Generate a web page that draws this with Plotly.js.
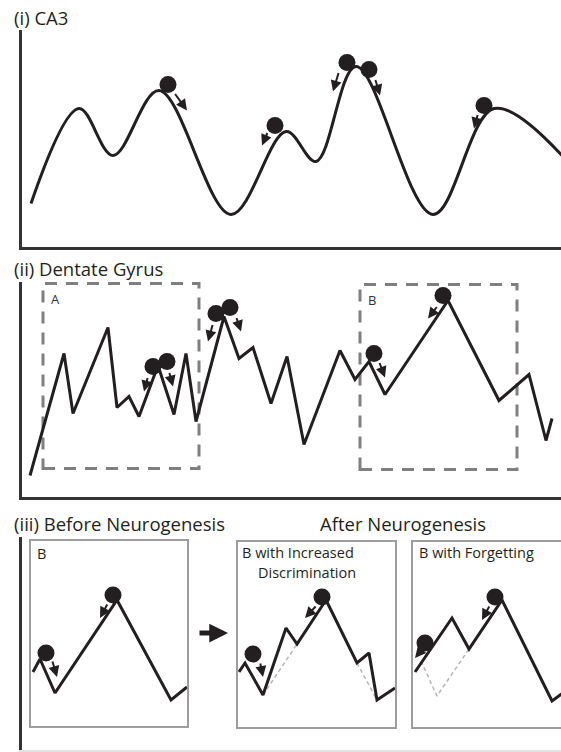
<!DOCTYPE html>
<html>
<head>
<meta charset="utf-8">
<script src="https://cdn.plot.ly/plotly-3.0.1.min.js"></script>
<style>html,body{margin:0;padding:0;background:#fff;overflow:hidden;}#chart{width:561px;height:752px;}</style>
</head>
<body>
<div id="chart"></div>
<script>
// ---------- Panel (i) CA3 : smooth energy landscape ----------
const ca3X = [9, 57, 91, 137, 209, 264, 294, 334, 411, 472, 540];
const ca3Y = [43, 138, 91, 156, 32, 115, 85, 180, 32, 138, 91];
const ca3BallX = [146, 253, 325, 347, 462];
const ca3BallY = [162, 121, 184, 177, 141];
const ca3ArrowX0 = [152, 246, 317, 353, 456];
const ca3ArrowY0 = [154, 115, 175, 168, 133];
const ca3ArrowX1 = [165, 240, 311, 358, 452];
const ca3ArrowY1 = [136, 101, 155, 151, 118];

// ---------- Panel (ii) Dentate Gyrus : jagged landscape ----------
const dgX = [8, 42, 51, 86, 95, 107, 117, 136, 152, 164, 174, 202, 217, 231, 249, 265, 282, 318, 333, 347, 363, 426, 477, 507, 524, 530];
const dgY = [21, 143, 83, 169, 89, 100, 80, 131, 82, 143, 75, 180, 138, 149, 93, 140, 52, 146, 117, 135, 102, 196, 96, 122, 56, 78];
const dgBallX = [131, 145, 194, 208, 352, 421];
const dgBallY = [130, 135, 183, 189, 143, 201];
const dgArrowX0 = [126, 147, 191, 214, 357, 416];
const dgArrowY0 = [120, 125, 173, 180, 135, 191];
const dgArrowX1 = [122, 151, 186, 219, 363, 406];
const dgArrowY1 = [105, 110, 155, 165, 119, 178];
const dgBoxNames = ["A", "B"];
const dgBoxX0 = [21, 338];
const dgBoxX1 = [177, 495];
const dgBoxY0 = [28, 27];
const dgBoxY1 = [213, 212];

// ---------- Panel (iii) region B before / after neurogenesis ----------
const beforeX = [2, 9, 24, 86, 140, 156];
const beforeY = [54, 67, 33, 126, 26, 39];
const beforeBallX = [15, 82];
const beforeBallY = [73, 131];
const beforeArrowX0 = [21, 77], beforeArrowY0 = [66, 123];
const beforeArrowX1 = [26, 69], beforeArrowY1 = [49, 108];

const discX = [1, 7, 25, 48, 59, 88, 119, 131, 139, 157];
const discY = [55, 64, 32, 99, 83, 127, 64, 74, 27, 39];
const discOldX = [25, 59, null, 119, 139];
const discOldY = [32, 83, null, 64, 27];
const discBallX = [15, 84];
const discBallY = [73, 130];
const discArrowX0 = [22, 79], discArrowY0 = [65, 122];
const discArrowX1 = [25, 67], discArrowY1 = [50, 109];

const forgetX = [2, 39, 56, 89, 139, 150];
const forgetY = [55, 109, 78, 127, 26, 34];
const forgetOldX = [8, 24, 56];
const forgetOldY = [66, 31, 78];
const forgetBallX = [12, 82];
const forgetBallY = [84, 130];
const forgetArrowX0 = [7, 77], forgetArrowY0 = [75, 122];
const forgetArrowX1 = [2, 69], forgetArrowY1 = [69, 107];

const panelTitles = ["(i) CA3", "(ii) Dentate Gyrus", "(iii) Before Neurogenesis", "After Neurogenesis"];
const boxLabels = ["B", "B with Increased", "Discrimination", "B with Forgetting"];

// ---------- styling / layout helpers ----------
const W = 561, H = 752;
const px = x => x / W;
const py = y => (H - y) / H;
const INK = '#231f20';
const FONT = 'Open Sans, sans-serif';

function landscape(x, y, xa, ya, shape) {
  return {x: x, y: y, xaxis: xa, yaxis: ya, type: 'scatter', mode: 'lines',
    line: {color: INK, width: 3, shape: shape || 'linear', smoothing: 1.0},
    hoverinfo: 'skip', showlegend: false, cliponaxis: true};
}
function balls(x, y, xa, ya) {
  return {x: x, y: y, xaxis: xa, yaxis: ya, type: 'scatter', mode: 'markers',
    marker: {color: INK, size: 17}, hoverinfo: 'skip', showlegend: false, cliponaxis: false};
}
function dashed(x, y, xa, ya) {
  return {x: x, y: y, xaxis: xa, yaxis: ya, type: 'scatter', mode: 'lines',
    line: {color: '#b5b5b5', width: 1.5, dash: '4px,3px'}, hoverinfo: 'skip', showlegend: false};
}
function arrows(x0, y0, x1, y1, xa, ya) {
  const out = [];
  for (let i = 0; i < x0.length; i++) {
    out.push({x: x1[i], y: y1[i], ax: x0[i], ay: y0[i], xref: xa, yref: ya, axref: xa, ayref: ya,
      text: '', showarrow: true, arrowhead: 2, arrowsize: 1.1, arrowwidth: 2, arrowcolor: INK, standoff: 0, startstandoff: 0});
  }
  return out;
}

const traces = [
  landscape(ca3X, ca3Y, 'x', 'y', 'spline'),
  balls(ca3BallX, ca3BallY, 'x', 'y'),
  landscape(dgX, dgY, 'x2', 'y2'),
  balls(dgBallX, dgBallY, 'x2', 'y2'),
  {x: [null], y: [null], xaxis: 'x3', yaxis: 'y3', type: 'scatter', mode: 'lines', showlegend: false, hoverinfo: 'skip'},
  landscape(beforeX, beforeY, 'x4', 'y4'),
  balls(beforeBallX, beforeBallY, 'x4', 'y4'),
  dashed(discOldX, discOldY, 'x5', 'y5'),
  landscape(discX, discY, 'x5', 'y5'),
  balls(discBallX, discBallY, 'x5', 'y5'),
  dashed(forgetOldX, forgetOldY, 'x6', 'y6'),
  landscape(forgetX, forgetY, 'x6', 'y6'),
  balls(forgetBallX, forgetBallY, 'x6', 'y6')
];

const bare = {showgrid: false, zeroline: false, showticklabels: false, ticks: '', fixedrange: true};
const axisLine = {showline: true, linecolor: '#333333', linewidth: 3};
const boxLine = {showline: true, mirror: true, linecolor: '#9d9d9d', linewidth: 2};

const annotations = [];
function title(text, x, y, anchor, size) {
  annotations.push({text: text, x: x, y: y, xref: 'paper', yref: 'paper', xanchor: anchor, yanchor: 'middle',
    showarrow: false, font: {family: FONT, size: size, color: INK}});
}
title(panelTitles[0], px(12), py(17), 'left', 18.5);
title(panelTitles[1], px(12), py(268), 'left', 18.5);
title(panelTitles[2], px(12), py(523), 'left', 18.5);
title(panelTitles[3], px(403), py(523), 'center', 18.5);

dgBoxNames.forEach((n, i) => {
  annotations.push({text: n, x: dgBoxX0[i] + 6, y: dgBoxY1[i] - 15, xref: 'x2', yref: 'y2', xanchor: 'left', yanchor: 'middle',
    showarrow: false, font: {family: FONT, size: 13, color: '#333'}});
});
function boxText(text, xa, ya, x, y) {
  annotations.push({text: text, x: x, y: y, xref: xa, yref: ya, xanchor: 'left', yanchor: 'middle',
    showarrow: false, font: {family: FONT, size: 14.5, color: INK}});
}
boxText(boxLabels[0], 'x4', 'y4', 4, 173);
boxText(boxLabels[1], 'x5', 'y5', 2, 175);
boxText(boxLabels[2], 'x5', 'y5', 18, 155);
boxText(boxLabels[3], 'x6', 'y6', 4, 175);

annotations.push(...arrows(ca3ArrowX0, ca3ArrowY0, ca3ArrowX1, ca3ArrowY1, 'x', 'y'));
annotations.push(...arrows(dgArrowX0, dgArrowY0, dgArrowX1, dgArrowY1, 'x2', 'y2'));
annotations.push(...arrows(beforeArrowX0, beforeArrowY0, beforeArrowX1, beforeArrowY1, 'x4', 'y4'));
annotations.push(...arrows(discArrowX0, discArrowY0, discArrowX1, discArrowY1, 'x5', 'y5'));
annotations.push(...arrows(forgetArrowX0, forgetArrowY0, forgetArrowX1, forgetArrowY1, 'x6', 'y6'));

// big arrow between "before" and "after"
annotations.push({x: px(228), y: py(633), xref: 'paper', yref: 'paper', ax: -30, ay: 0, text: '', showarrow: true,
  arrowhead: 2, arrowsize: 0.75, arrowwidth: 5, arrowcolor: INK, standoff: 0});

const shapes = dgBoxNames.map((n, i) => ({type: 'rect', xref: 'x2', yref: 'y2',
  x0: dgBoxX0[i], x1: dgBoxX1[i], y0: dgBoxY0[i], y1: dgBoxY1[i],
  line: {color: '#7f7f7f', width: 3, dash: '12px,9px'}, fillcolor: 'rgba(0,0,0,0)', layer: 'below'}));
// third frame runs off the right edge of the page: open on the right
const f3 = {l: px(412), t: py(541), b: py(728), r: 1.1};
shapes.push({type: 'path', xref: 'paper', yref: 'paper',
  path: `M ${f3.r},${f3.b} L ${f3.l},${f3.b} L ${f3.l},${f3.t} L ${f3.r},${f3.t}`,
  line: {color: '#9d9d9d', width: 2}, fillcolor: 'rgba(0,0,0,0)', layer: 'below'});

const layout = {
  width: W, height: H, margin: {l: 0, r: 0, t: 0, b: 0},
  paper_bgcolor: '#ffffff', plot_bgcolor: 'rgba(0,0,0,0)',
  showlegend: false, font: {family: FONT, color: INK},
  xaxis: Object.assign({}, bare, axisLine, {domain: [px(22), 1], range: [0, 539], anchor: 'y'}),
  yaxis: Object.assign({}, bare, axisLine, {domain: [py(246.5), py(30)], range: [0, 216.5], anchor: 'x'}),
  xaxis2: Object.assign({}, bare, axisLine, {domain: [px(22), 1], range: [0, 539], anchor: 'y2'}),
  yaxis2: Object.assign({}, bare, axisLine, {domain: [py(496.5), py(282)], range: [0, 214.5], anchor: 'x2'}),
  xaxis3: Object.assign({}, bare, {domain: [px(22), 1], range: [0, 1], anchor: 'y3', showline: true, linecolor: '#e2e2e2', linewidth: 2}),
  yaxis3: Object.assign({}, bare, axisLine, {domain: [py(750), py(537)], range: [0, 1], anchor: 'x3'}),
  xaxis4: Object.assign({}, bare, boxLine, {domain: [px(31), px(187)], range: [0, 156], anchor: 'y4'}),
  yaxis4: Object.assign({}, bare, boxLine, {domain: [py(726), py(541)], range: [0, 185], anchor: 'x4'}),
  xaxis5: Object.assign({}, bare, boxLine, {domain: [px(238), px(395)], range: [0, 157], anchor: 'y5'}),
  yaxis5: Object.assign({}, bare, boxLine, {domain: [py(727), py(542)], range: [0, 185], anchor: 'x5'}),
  xaxis6: Object.assign({}, bare, {showline: false, domain: [px(413), 1], range: [0, 148], anchor: 'y6'}),
  yaxis6: Object.assign({}, bare, {showline: false, domain: [py(727), py(542)], range: [0, 185], anchor: 'x6'}),
  annotations: annotations,
  shapes: shapes
};

Plotly.newPlot('chart', traces, layout, {staticPlot: true, displayModeBar: false});
</script>
</body>
</html>
